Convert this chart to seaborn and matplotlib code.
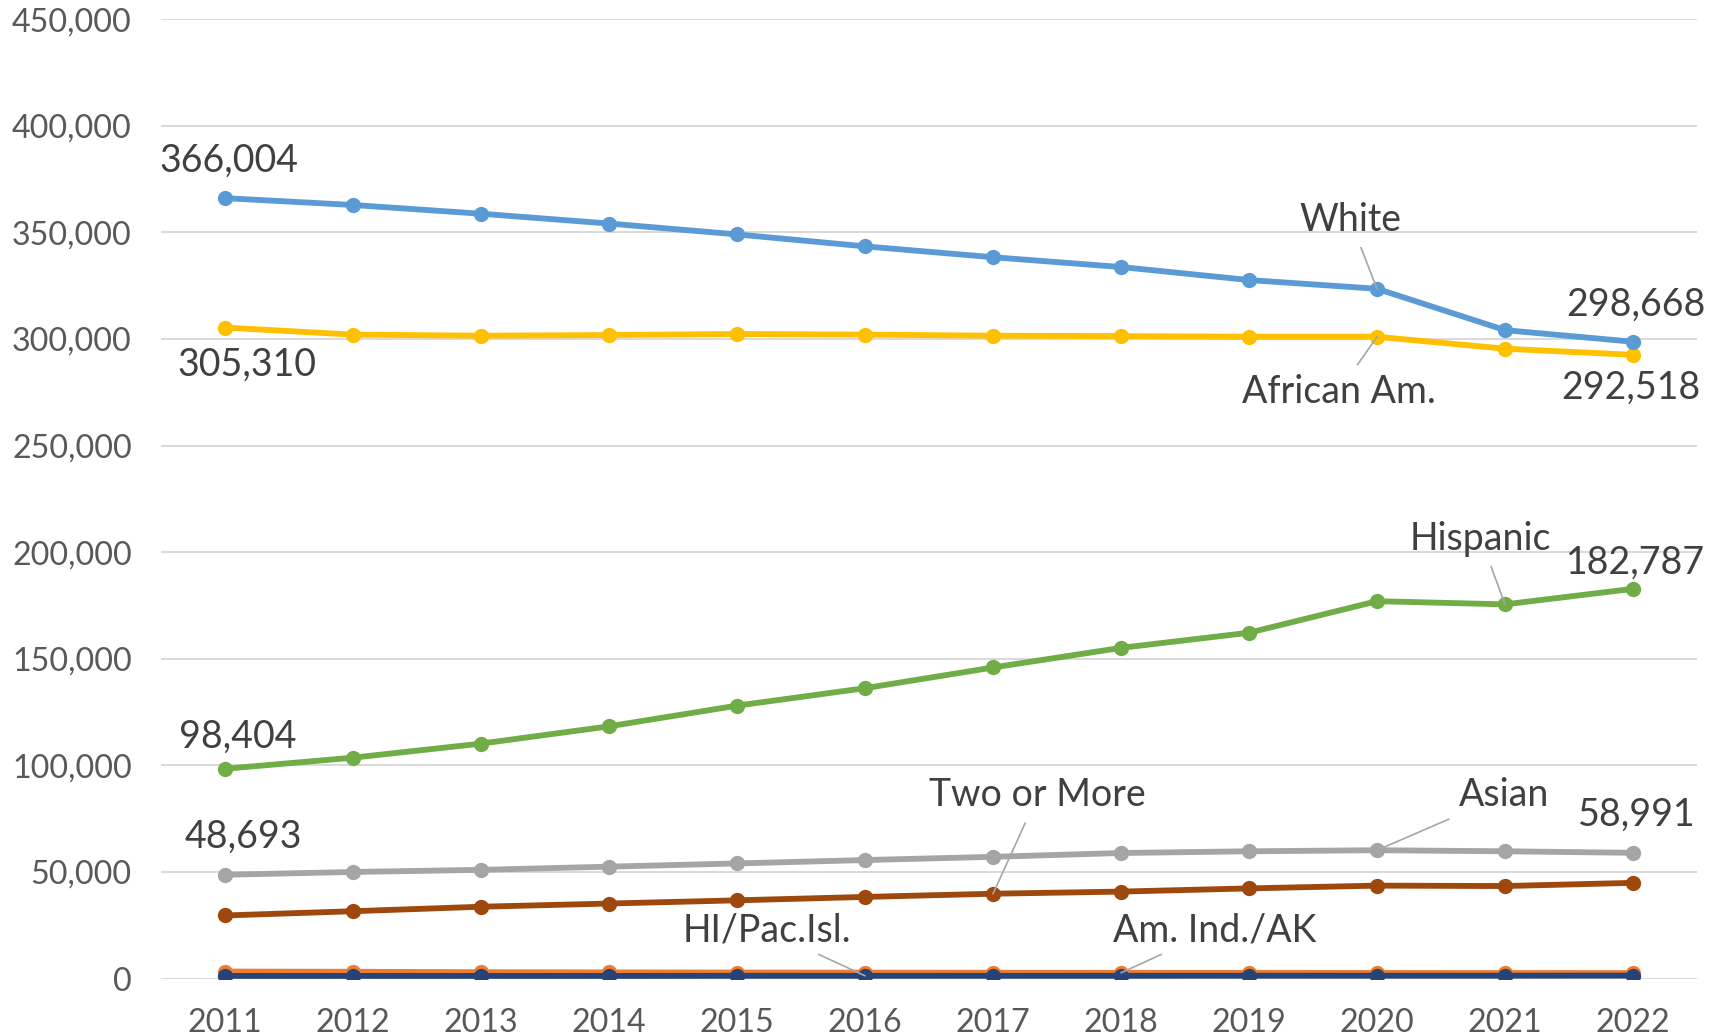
import pandas as pd
import seaborn as sns
import matplotlib.pyplot as plt
from matplotlib.ticker import FuncFormatter, MultipleLocator

years = list(range(2011, 2023))

white = [366004, 362800, 358700, 354100, 349000, 343400, 338300, 333700, 327600, 323500, 304100, 298668]
african_am = [305310, 302000, 301500, 301800, 302300, 302000, 301500, 301300, 301000, 301000, 295400, 292518]
hispanic = [98404, 103600, 110200, 118300, 128000, 136200, 145900, 155100, 162200, 177000, 175500, 182787]
asian = [48693, 50000, 51000, 52500, 54000, 55600, 57100, 58900, 59700, 60200, 59700, 58991]
two_or_more = [29600, 31600, 33700, 35200, 36700, 38300, 39800, 40800, 42300, 43600, 43400, 44900]
am_ind = [3300, 3200, 3000, 2900, 2850, 2800, 2750, 2700, 2700, 2650, 2600, 2600]
hi_pac = [1250, 1250, 1250, 1250, 1300, 1300, 1300, 1300, 1350, 1350, 1350, 1400]

series = {
    "White": white,
    "African Am.": african_am,
    "Hispanic": hispanic,
    "Asian": asian,
    "Two or More": two_or_more,
    "Am. Ind./AK": am_ind,
    "HI/Pac.Isl.": hi_pac,
}
colors = {
    "White": "#5B9BD5",
    "African Am.": "#FFC000",
    "Hispanic": "#70AD47",
    "Asian": "#A5A5A5",
    "Two or More": "#9E480E",
    "Am. Ind./AK": "#ED7D31",
    "HI/Pac.Isl.": "#264478",
}

sns.set_theme()
sns.set_style("white")
plt.rcParams['font.family'] = ['Lato', 'DejaVu Sans']

df = pd.DataFrame([
    {"year": y, "group": name, "count": v}
    for name, vals in series.items() for y, v in zip(years, vals)
])

fig = plt.figure(figsize=(17.09, 10.35), dpi=100)
ax = fig.add_axes([0.0942, 0.0545, 0.8988, 0.9271])

hue_order = ["Am. Ind./AK", "HI/Pac.Isl.", "Two or More", "Asian", "Hispanic", "African Am.", "White"]
sns.lineplot(data=df, x="year", y="count", hue="group", hue_order=hue_order,
             palette=colors, marker="o", markersize=11, markeredgewidth=0,
             linewidth=4.2, legend=False, ax=ax, zorder=3)

ax.set_xlim(2010.5, 2022.5)
ax.set_ylim(0, 450000)
ax.yaxis.set_major_locator(MultipleLocator(50000))
ax.yaxis.set_major_formatter(FuncFormatter(lambda v, p: f"{int(v):,}"))
ax.set_xticks(years)
ax.grid(axis="y", color="#D9D9D9", linewidth=1.4, zorder=0)
ax.grid(axis="x", visible=False)
for s in ax.spines.values():
    s.set_visible(False)
ax.tick_params(axis="both", length=0, labelsize=23.2, labelcolor="#595959")
ax.tick_params(axis="y", pad=21)
ax.tick_params(axis="x", pad=21)
ax.set_xlabel("")
ax.set_ylabel("")

txt = dict(fontsize=27, color="#404040", ha="center", va="center")

# value labels at first and last points
values = [
    (2011.03, 383700, "White", 0),
    (2011.17, 288000, "African Am.", 0),
    (2011.10, 113500, "Hispanic", 0),
    (2011.14, 66600, "Asian", 0),
    (2022.02, 316000, "White", -1),
    (2021.98, 277300, "African Am.", -1),
    (2022.02, 195100, "Hispanic", -1),
    (2022.03, 76800, "Asian", -1),
]
for x, y, name, idx in values:
    ax.text(x, y, f"{series[name][idx]:,}", **txt)

# series name labels with leader lines
names = [
    ("White", 2020, 2019.79, 355800),
    ("African Am.", 2020, 2019.70, 275200),
    ("Hispanic", 2021, 2020.81, 206300),
    ("Asian", 2020, 2020.99, 85900),
    ("Two or More", 2017, 2017.35, 85900),
    ("HI/Pac.Isl.", 2016, 2015.23, 22700),
    ("Am. Ind./AK", 2018, 2018.73, 22700),
]
for name, yr, tx, ty in names:
    ax.annotate(name, xy=(yr, series[name][years.index(yr)]), xytext=(tx, ty),
                arrowprops=dict(arrowstyle="-", color="#A6A6A6", lw=1.2,
                                shrinkA=5, shrinkB=0),
                zorder=5, **txt)

fig.savefig("out.png", dpi=100)
